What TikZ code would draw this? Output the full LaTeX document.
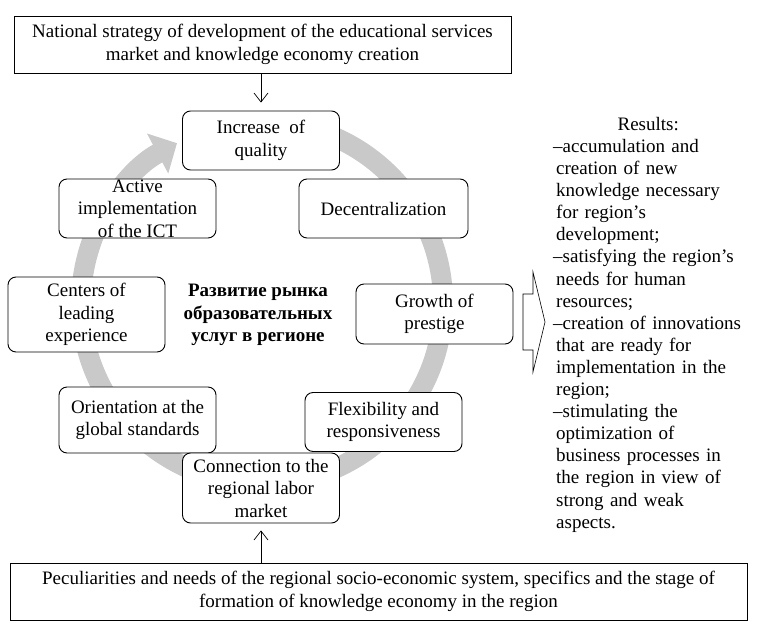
\documentclass[tikz,border=0pt]{standalone}
\usepackage{fontspec}
\setmainfont{Liberation Serif}
\usetikzlibrary{positioning,arrows.meta}

\newcommand{\resind}{\hspace*{3pt}}

\begin{document}
\begin{tikzpicture}[x=1pt,y=1pt,font=\fontsize{19}{22.5}\selectfont,
  stage/.style={draw,rounded corners=8pt,fill=white,align=center,inner sep=0pt,
    minimum width=157pt,minimum height=59pt,line width=0.9pt},
  frame/.style={draw,fill=white,align=center,inner sep=0pt,line width=0.9pt},
  link/.style={line width=0.7pt,-{Straight Barb[length=9pt,width=14pt]}}]
  \useasboundingbox (0,0) rectangle (761,-627);
  \coordinate (hub) at (262,-303);

  % grey cycle behind the stages
  \draw[black!21,line width=20pt,-{Triangle[length=22pt,width=44pt]}]
    ([shift={(80:181)}]hub) arc[start angle=80,end angle=-242,radius=181];

  \node[frame,minimum width=497pt,minimum height=57pt] (strategy) at (262.5,-44.5)
    {National strategy of development of the educational services\\ market and knowledge economy creation};

  \node[stage] (quality) at (261,-140.5) {Increase~ of\\ quality};
  \node[stage] (ict) at (137.5,-208.5) {Active\\ implementation\\ of the ICT};
  \node[stage,minimum width=169pt] (decentral) at (383.5,-208.5) {Decentralization};
  \node[stage,minimum height=75pt] (centers) at (86.5,-314.5) {Centers of\\ leading\\ experience};
  \node[stage,minimum height=60pt] (growth) at (434.5,-314) {Growth of\\ prestige};
  \node[stage,minimum height=66pt] (orient) at (137.5,-420) {Orientation at the\\ global standards};
  \node[stage] (flex) at (383.5,-422) {Flexibility and\\ responsiveness};
  \node[stage,minimum height=70pt] (labor) at (261,-488) {Connection to the\\ regional labor\\ market};

  \node[align=center,font=\fontsize{19}{22.5}\selectfont\bfseries] (core) at (258,-315)
    {Развитие рынка\\ образовательных\\ услуг в регионе};

  \node[frame,minimum width=737pt,minimum height=57pt] (needs) at (378.5,-591.5)
    {Peculiarities and needs of the regional socio-economic system, specifics and the stage of\\ formation of knowledge economy in the region};

  \draw[link] (quality.north |- strategy.south) -- ([yshift=8pt]quality.north);
  \draw[link] (labor.south |- needs.north) -- ([yshift=-7pt]labor.south);

  % outcome arrow and list
  \coordinate (tail) at (523,-322);
  \draw[line width=0.6pt] (tail) ++(0,28) -- ++(10,0) -- ++(0,22) -- (545,-322)
    -- (533,-372) -- ++(0,22) -- ++(-10,0) -- cycle;

  \node[anchor=north west,align=left,text width=200pt,inner sep=0pt,
    font=\fontsize{19}{22.1}\selectfont] (results) at (553,-117)
    {\makebox[190pt][c]{Results:}\\
     –accumulation and\\
     \resind creation of new\\
     \resind knowledge necessary\\
     \resind for region’s\\
     \resind development;\\
     –satisfying the region’s\\
     \resind needs for human\\
     \resind resources;\\
     –creation of innovations\\
     \resind that are ready for\\
     \resind implementation in the\\
     \resind region;\\
     –stimulating the\\
     \resind optimization of\\
     \resind business processes in\\
     \resind the region in view of\\
     \resind strong and weak\\
     \resind aspects.};
\end{tikzpicture}
\end{document}
